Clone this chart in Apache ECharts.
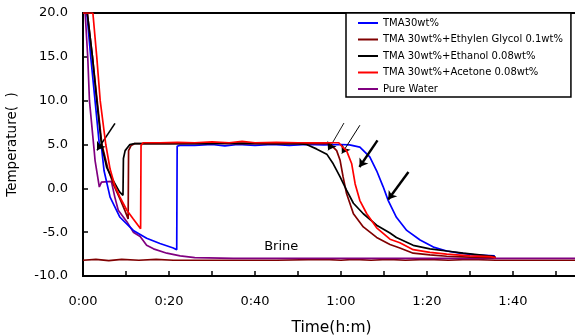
<!DOCTYPE html>
<html>
<head>
<meta charset="utf-8">
<script src="https://cdn.jsdelivr.net/npm/echarts@6/dist/echarts.min.js"></script>
<style>html,body{margin:0;padding:0;background:#fff}#c{width:575px;height:335px}</style>
</head>
<body>
<div id="c"></div>
<script>
// ---- data (time in minutes, temperature in deg C) ----
const seriesNames = ['TMA30wt%', 'TMA 30wt%+Ethylen Glycol 0.1wt%', 'TMA 30wt%+Ethanol 0.08wt%', 'TMA 30wt%+Acetone 0.08wt%', 'Pure Water'];
const yTicks = [-10, -5, 0, 5, 10, 15, 20];

const tma30 = [[0,20],[0.9,20],[1.8,15],[2.8,10],[3.8,5],[4.3,4.7],[4.9,2.0],[6.3,-1.0],[8.6,-3.3],[11.7,-4.8],[14.8,-5.7],[17.9,-6.3],[21.0,-6.8],[21.8,-7.0],
  [21.9,4.8],[22.5,4.9],[26,4.9],[30,5.0],[33,4.85],[36,5.0],[40,4.9],[44,5.0],[48,4.9],[52,5.0],[56,4.95],[60,5.0],[62,4.95],
  [64.4,4.7],[66.7,3.6],[68.3,2.0],[69.8,0.2],[71.0,-1.4],[72.9,-3.3],[75.3,-4.8],[78.4,-5.9],[81.5,-6.7],[84.6,-7.15],[87.7,-7.4],[91,-7.6],[95.8,-7.7]];

const tmaEG = [[0,20],[1.0,20],[2.2,15],[3.3,10],[4.4,5],[5.8,2.2],[7.2,0.3],[8.6,-1.2],[9.8,-2.6],[10.5,-3.5],
  [10.6,4.3],[11.2,4.9],[12,5.1],[20,5.1],[28,5.15],[36,5.1],[44,5.1],[52,5.1],[57.4,5.1],
  [59,4.3],[59.8,3.2],[60.5,1.3],[61.3,-0.6],[62.9,-2.9],[65.2,-4.4],[68.3,-5.6],[71.4,-6.4],[73.7,-6.8],[76.8,-7.4],[80.7,-7.6],[84.6,-7.75],[90,-7.85],[95.5,-7.9]];

const tmaEthanol = [[0,20],[1.0,20],[2.2,15],[3.2,10],[4.3,5],[5.5,2.4],[7.0,0.9],[8.5,-0.4],[9.3,-0.8],
  [9.4,3.4],[9.8,4.3],[10.9,5.0],[12,5.1],[20,5.1],[28,5.1],[36,5.15],[44,5.1],[50,5.1],[52,5.0],
  [54.3,4.5],[56.7,3.9],[58.2,2.8],[59.8,1.3],[61.3,-0.2],[62.9,-1.7],[65.2,-2.9],[68.3,-4.2],[71.4,-5.1],[72.9,-5.6],[76.8,-6.5],[80.7,-6.9],[84.6,-7.15],[88.4,-7.4],[95.4,-7.75],[96,-7.9]];

const tmaAcetone = [[0,20],[2.3,20],[3.2,15],[4.0,10],[5.3,5],[6.3,2.2],[7.4,0.3],[8.6,-1.0],[10.2,-2.5],[11.7,-3.5],[13.4,-4.6],
  [13.5,4.9],[14,5.2],[18,5.2],[22,5.25],[26,5.2],[30,5.3],[34,5.2],[37,5.35],[40,5.2],[45,5.25],[50,5.2],[55,5.2],[59.5,5.2],
  [60.2,4.8],[61.3,4.3],[62.5,2.8],[63.3,0.5],[64.4,-1.4],[66,-2.9],[68.3,-4.5],[71.4,-5.8],[73.7,-6.2],[76.8,-7.0],[80.7,-7.3],[84.6,-7.5],[90,-7.7],[94.7,-7.8],[96,-7.9]];

const pureWater = [[0,20],[0.5,20],[1.1,15],[1.5,10],[2.6,4.3],[2.8,3.2],[3.8,0.15],[4.3,0.7],[6.6,0.8],
  [7.4,-1.0],[8.2,-2.5],[10.2,-3.8],[11.7,-5.0],[13.3,-5.5],[14.8,-6.5],[16.4,-6.9],[19.5,-7.4],[22.6,-7.7],[26,-7.9],[35,-8.0],[60,-8.0],[90,-8.0],[116,-8.0]];

const brine = [[0,-8.2],[3,-8.1],[6,-8.25],[9,-8.1],[13,-8.2],[17,-8.1],[21,-8.2],[30,-8.2],[45,-8.2],[56,-8.1],[60,-8.2],[63,-8.1],[67,-8.2],[71,-8.1],[75,-8.2],[80,-8.1],[85,-8.2],[90,-8.1],[96,-8.2],[116,-8.2]];

// arrow annotations [fromT, fromTemp, toT, toTemp]
const arrows = [[7.44,7.41,3.26,4.33],[60.7,7.45,57.0,4.33],[64.4,7.2,60.2,3.96],[68.5,5.47,64.3,2.43],[75.7,1.86,71.0,-1.28]];
const arrowWidths = [1.6,0.9,1.0,2.4,2.4];
const brineLabel = {text:'Brine', t:46.1, temp:-6.6};

// ---- chart ----
const colors = ['#0000ff','#800000','#000000','#ff0000','#800080'];
const FONT = 'DejaVu Sans';
function fmtTime(v){ const h = Math.floor(v/60), m = Math.round(v%60); return h + ':' + (m<10?'0':'') + m; }

const dataSets = [tma30, tmaEG, tmaEthanol, tmaAcetone, pureWater];
const series = [{
  name:'Brine', type:'line', data:brine, showSymbol:false, symbol:'none',
  lineStyle:{color:'#800000', width:1.6}, itemStyle:{color:'#800000'}, z:1, animation:false,
  markLine:{
    silent:true, animation:false, symbol:['none','arrow'], symbolSize:8,
    label:{show:false},
    data: arrows.map((a,i)=>[{coord:[a[0],a[1]], lineStyle:{color:'#000', width:arrowWidths[i], type:'solid'}},{coord:[a[2],a[3]]}])
  },
  markPoint:{
    silent:true, animation:false,
    data:[{coord:[brineLabel.t, brineLabel.temp], symbol:'circle', symbolSize:1, itemStyle:{color:'rgba(0,0,0,0)'},
      label:{show:true, position:'inside', formatter:brineLabel.text, color:'#000', fontFamily:FONT, fontSize:13}}]
  }
}];
const order = [4,0,1,2,3];
order.forEach(i=>{
  series.push({name:seriesNames[i], type:'line', data:dataSets[i], showSymbol:false, symbol:'none',
    lineStyle:{color:colors[i], width:1.7}, itemStyle:{color:colors[i]}, z:2+order.indexOf(i), animation:false});
});

const chart = echarts.init(document.getElementById('c'), null, {renderer:'canvas'});
chart.setOption({
  animation:false,
  backgroundColor:'#fff',
  grid:{left:83, top:13, right:-5, bottom:59, containLabel:false, outerBoundsMode:'none',
    show:true, borderColor:'#000', borderWidth:2, backgroundColor:'transparent'},
  legend:{
    data:seriesNames, orient:'vertical', left:346, top:13,
    padding:[5,8,3,12], itemGap:6.5, itemWidth:20, itemHeight:10,
    icon:'path://M0,0 H20 V2 H0 Z',
    backgroundColor:'#fff', borderColor:'#000', borderWidth:1.5,
    textStyle:{fontFamily:FONT, fontSize:10, color:'#000'}
  },
  xAxis:{
    type:'value', min:0, max:115.6, interval:10,
    name:'Time(h:m)', nameLocation:'middle', nameGap:44,
    nameTextStyle:{fontFamily:FONT, fontSize:15.5, color:'#000'},
    axisLine:{show:true, onZero:false, lineStyle:{color:'#000', width:2}},
    axisTick:{show:true, inside:true, length:5, lineStyle:{color:'#000', width:1.5}},
    axisLabel:{margin:19, fontFamily:FONT, fontSize:13, color:'#000', showMaxLabel:false,
      formatter:v=> (Math.round(v)%20===0 ? fmtTime(v) : '')},
    splitLine:{show:false}
  },
  yAxis:{
    type:'value', min:yTicks[0], max:yTicks[yTicks.length-1], interval:5,
    name:'Temperature(  )', nameLocation:'middle', nameGap:64, nameRotate:90,
    nameTextStyle:{fontFamily:FONT, fontSize:13.5, color:'#000'},
    axisLine:{show:true, onZero:false, lineStyle:{color:'#000', width:2}},
    axisTick:{show:true, inside:true, length:5, lineStyle:{color:'#000', width:1.5}},
    axisLabel:{margin:15, fontFamily:FONT, fontSize:13, color:'#000', formatter:v=>v.toFixed(1)},
    splitLine:{show:false}
  },
  series:series
});
</script>
</body>
</html>
